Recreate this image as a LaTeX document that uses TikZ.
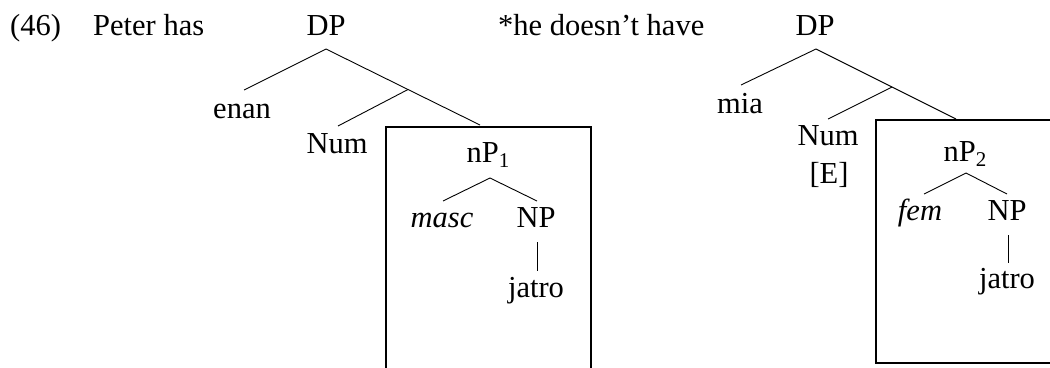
\documentclass[tikz,border=0pt]{standalone}
\usepackage{fontspec}
\setmainfont{Liberation Serif}
\newcommand\subidx[1]{\raisebox{-5pt}{\fontsize{21}{21}\selectfont #1}}
\begin{document}
\begin{tikzpicture}[x=1pt,y=-1pt,
  lbl/.style={anchor=base,inner sep=0pt,font=\fontsize{30.5}{36}\selectfont},
  branch/.style={line width=0.9pt},
  frame/.style={line width=2.4pt}]
\useasboundingbox (0,0) rectangle (1050,367);
\clip (0,0) rectangle (1050,367);

% header line
\node[lbl,anchor=base west] (ex) at (10,35) {(46)};
\node[lbl,anchor=base west] (s1) at (93,35) {Peter has};
\node[lbl,anchor=base west] (s2) at (498,35) {*he doesn’t have};

% left tree
\node[lbl] (dpA) at (326,35) {DP};
\node[lbl] (enan) at (242,118) {enan};
\node[lbl] (numA) at (337,153) {Num};
\node[lbl] (npA) at (488,162) {nP\subidx{1}};
\node[lbl] (mascA) at (442,227) {\textit{masc}};
\node[lbl] (NPA) at (536,227) {NP};
\node[lbl] (jatroA) at (536,297) {jatro};
\coordinate (midA) at (408,89.5);

\draw[branch] ([yshift=-14pt]dpA.base) -- ([xshift=2pt,yshift=28pt]enan.base);
\draw[branch] ([yshift=-14pt]dpA.base) -- (midA) -- ([xshift=-8pt,yshift=37pt]npA.base);
\draw[branch] (midA) -- ([xshift=1pt,yshift=27pt]numA.base);
\draw[branch] ([xshift=2pt,yshift=-16pt]npA.base) -- ([xshift=1pt,yshift=26pt]mascA.base);
\draw[branch] ([xshift=2pt,yshift=-16pt]npA.base) -- ([xshift=1pt,yshift=26pt]NPA.base);
\draw[branch] ([xshift=1pt,yshift=-15pt]NPA.base) -- ([xshift=1pt,yshift=26pt]jatroA.base);
\draw[frame] (386,127) rectangle (591,385);

% right tree
\node[lbl] (dpB) at (815,35) {DP};
\node[lbl] (mia) at (740,113) {mia};
\node[lbl] (numB) at (828,145) {Num};
\node[lbl] (E) at (829,183) {[E]};
\node[lbl] (npB) at (965,161) {nP\subidx{2}};
\node[lbl] (femB) at (920,220) {\textit{fem}};
\node[lbl] (NPB) at (1007,220) {NP};
\node[lbl] (jatroB) at (1007,288) {jatro};
\coordinate (midB) at (892,87);

\draw[branch] ([xshift=1pt,yshift=-14pt]dpB.base) -- ([xshift=1pt,yshift=28pt]mia.base);
\draw[branch] ([xshift=1pt,yshift=-14pt]dpB.base) -- (midB) -- ([xshift=-9pt,yshift=42pt]npB.base);
\draw[branch] (midB) -- ([yshift=26pt]numB.base);
\draw[branch] ([xshift=1pt,yshift=-12pt]npB.base) -- ([xshift=4pt,yshift=26pt]femB.base);
\draw[branch] ([xshift=1pt,yshift=-12pt]npB.base) -- ([yshift=26pt]NPB.base);
\draw[branch] ([xshift=1pt,yshift=-15pt]NPB.base) -- ([xshift=1pt,yshift=25pt]jatroB.base);
\draw[frame] (876,120) rectangle (1065,363);
\end{tikzpicture}
\end{document}
